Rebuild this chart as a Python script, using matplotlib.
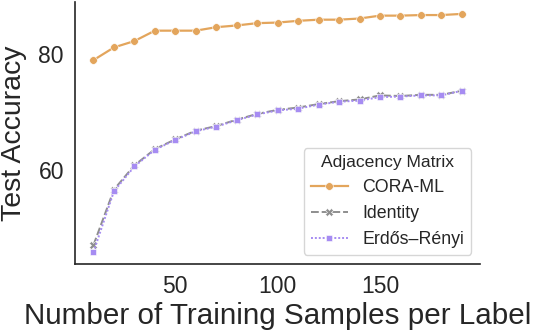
import matplotlib
matplotlib.use("Agg")
import matplotlib.pyplot as plt

plt.rcParams['font.family'] = ['Liberation Sans', 'DejaVu Sans']

samples = [10, 20, 30, 40, 50, 60, 70, 80, 90, 100, 110, 120, 130, 140, 150, 160, 170, 180, 190]
cora_ml = [79.0, 81.2, 82.3, 84.1, 84.1, 84.1, 84.7, 85.0, 85.4, 85.5, 85.8, 86.0, 86.0, 86.2, 86.7, 86.7, 86.8, 86.8, 87.0]
identity = [47.0, 56.6, 60.8, 63.6, 65.3, 66.8, 67.6, 68.7, 69.7, 70.4, 70.8, 71.4, 71.9, 72.2, 72.9, 72.8, 73.0, 73.0, 73.7]
erdos_renyi = [45.8, 56.3, 60.6, 63.5, 65.2, 66.7, 67.5, 68.6, 69.6, 70.3, 70.6, 71.3, 71.8, 72.0, 72.6, 72.7, 72.9, 72.9, 73.7]

labels = ["CORA-ML", "Identity", "Erdős–Rényi"]
colors = ["#e3a55c", "#8e8e8e", "#a68cf2"]

fig = plt.figure(figsize=(5.36, 3.32), dpi=100)
ax = fig.add_axes([0.14, 0.205, 0.756, 0.789])

ax.plot(samples, cora_ml, color=colors[0], lw=1.6, marker='o', ms=5.5,
        mec='white', mew=0.4, label=labels[0])
ax.plot(samples, identity, color=colors[1], lw=1.4, marker='X', ms=5.5,
        mec='white', mew=0.4, dashes=(4, 1.5), label=labels[1])
ax.plot(samples, erdos_renyi, color=colors[2], lw=1.4, marker=(4, 0, 45), ms=6.5,
        mec='white', mew=0.4, dashes=(1, 1), label=labels[2])

ax.set_xticks([50, 100, 150])
ax.set_yticks([60, 80])
ax.tick_params(length=0, labelsize=16.5, pad=8, labelcolor='#262626')
for s in ['top', 'right']:
    ax.spines[s].set_visible(False)
for s in ['left', 'bottom']:
    ax.spines[s].set_color('#262626')
    ax.spines[s].set_linewidth(1.2)

ax.set_xlabel("Number of Training Samples per Label", fontsize=21.3, color='#262626', labelpad=3)
ax.set_ylabel("Test Accuracy", fontsize=20.5, color='#262626', labelpad=8)

leg = ax.legend(title="Adjacency Matrix", loc='lower right', fontsize=12.8,
                title_fontsize=12.6, frameon=True, framealpha=0.8,
                borderpad=0.4, handlelength=2.1, labelspacing=0.5,
                bbox_to_anchor=(1.0, 0.0))
leg.get_frame().set_edgecolor('#cccccc')
for t in leg.get_texts():
    t.set_color('#262626')
leg.get_title().set_color('#262626')

fig.savefig("out.png", dpi=100)
